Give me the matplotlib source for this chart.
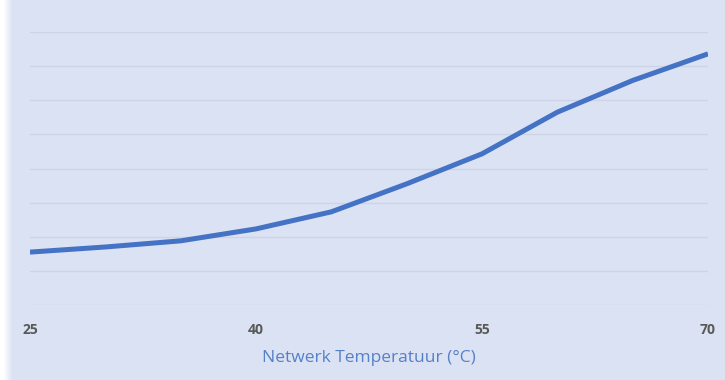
import matplotlib.pyplot as plt
from matplotlib.patches import Rectangle

# data (y in gridline units, no y labels shown)
temps = [25, 30, 35, 40, 45, 50, 55, 60, 65, 70]
values = [1.55, 1.70, 1.88, 2.23, 2.73, 3.55, 4.43, 5.65, 6.58, 7.36]
xticks = [25, 40, 55, 70]
xlabel = 'Netwerk Temperatuur (°C)'

bg = '#dbe2f3'
plt.rcParams['font.family'] = ['Open Sans', 'DejaVu Sans']

fig = plt.figure(figsize=(7.25, 3.8), dpi=100)
fig.patch.set_facecolor(bg)

# white fade on the left edge
for i in range(12):
    fig.patches.append(Rectangle((i / 725, 0), 1 / 725, 1, transform=fig.transFigure,
                                 facecolor='white', alpha=min(1, 1.4 - i / 8.5),
                                 edgecolor='none'))

ax = fig.add_axes([30 / 725, 1 - 305 / 380, 678 / 725, 273 / 380])
ax.set_facecolor(bg)
ax.plot(temps, values, color='#4472c4', linewidth=3.6, solid_joinstyle='round',
        solid_capstyle='butt', zorder=3)

ax.set_xlim(25, 70)
ax.set_ylim(0, 8)
ax.set_yticks(range(0, 9))
ax.set_yticklabels([])
ax.grid(axis='y', color='#cdd4e6', linewidth=1.0)
ax.tick_params(axis='y', length=0)
ax.set_xticks(xticks)
ax.set_xticklabels([str(t) for t in xticks], color='#595959', fontsize=10, fontweight='bold')
ax.tick_params(axis='x', length=0, pad=13)
for s in ax.spines.values():
    s.set_visible(False)
ax.set_xlabel(xlabel, color='#5680c8', fontsize=12.5, labelpad=9)

fig.savefig('out.png', dpi=100, facecolor=bg)
